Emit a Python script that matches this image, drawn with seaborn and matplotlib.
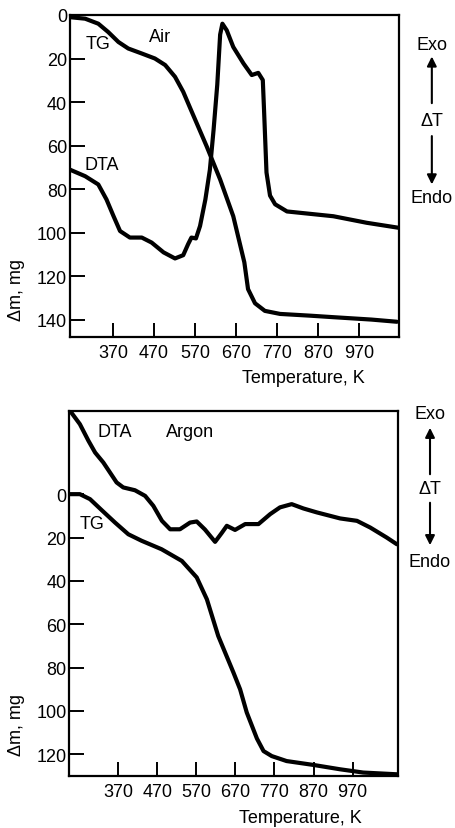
import numpy as np
import pandas as pd
import seaborn as sns
import matplotlib.pyplot as plt

# ? Air: TG curve
air_tg_temp = [265, 302, 334, 358, 383, 407, 440, 472, 497, 521, 541, 558, 598, 631, 663, 690, 699, 716, 740, 777, 850, 907, 1000, 1062]
air_tg_dm = [1.0, 1.7, 4.0, 7.8, 12.4, 15.4, 17.7, 20.0, 23.0, 28.4, 35.3, 42.8, 60.3, 75.6, 92.5, 113.7, 126.0, 132.5, 136.0, 137.4, 138.2, 138.9, 140.0, 141.0]

# ? Air: DTA curve
air_dta_temp = [265, 302, 334, 354, 371, 387, 411, 440, 464, 493, 521, 541, 553, 561, 572, 582, 595, 606, 615,
                624, 631, 636.5, 647, 663, 688, 708, 724, 735, 738, 744, 752.6, 765, 794, 907, 988, 1066]
air_dta_val = [71.1, 74.1, 77.9, 84.8, 92.4, 99.3, 102.3, 102.3, 104.6, 109.1, 111.9, 110.4, 105.3, 102.3, 102.7, 97.0, 84.8, 71.1, 52.8,
               32.0, 9.0, 4.0, 7.0, 14.7, 22.3, 27.6, 26.6, 29.9, 43.6, 72.4, 83.0, 87.0, 90.3, 92.5, 95.5, 97.8]

# ? Argon: TG curve
argon_tg_temp = [247, 272, 298, 328, 362, 396, 430, 481, 533, 571, 597, 626, 665, 682, 699, 725, 742, 763, 801, 870, 938, 997, 1083]
argon_tg_dm = [0.0, 0.0, 2.3, 7.4, 13.1, 18.5, 21.5, 25.4, 30.8, 38.4, 48.5, 65.4, 82.3, 90.0, 100.7, 112.7, 118.5, 120.8, 123.1, 124.9, 126.9, 128.4, 129.2]

# ? Argon: DTA curve
argon_dta_temp = [247, 272, 294, 311, 332, 349, 366, 383, 413, 439, 460, 482, 503, 528, 554, 571, 592, 618, 635, 648, 669,
                  695, 729, 759, 784, 814, 844, 878, 938, 981, 1015, 1057, 1083]
argon_dta_val = [-38.4, -32.3, -24.6, -19.2, -14.6, -10.0, -5.4, -3.1, -1.8, 0.8, 5.4, 12.3, 16.2, 16.2, 13.1, 12.6, 16.3, 22.0, 17.9, 14.6, 16.5,
                 13.8, 13.8, 9.2, 6.1, 4.6, 6.6, 8.4, 11.2, 12.3, 15.4, 20.0, 23.1]

x_ticks = [370, 470, 570, 670, 770, 870, 970]
air_y_ticks = [0, 20, 40, 60, 80, 100, 120, 140]
argon_y_ticks = [0, 20, 40, 60, 80, 100, 120]

sns.set_style('ticks')
plt.rcParams['font.family'] = ['Liberation Sans', 'DejaVu Sans']
plt.rcParams['font.size'] = 13
plt.rcParams['text.color'] = 'black'
plt.rcParams['axes.labelcolor'] = 'black'
plt.rcParams['xtick.color'] = 'black'
plt.rcParams['ytick.color'] = 'black'

fig = plt.figure(figsize=(4.56, 8.29), dpi=100)
ax1 = fig.add_axes([0.1535, 0.5923, 0.7215, 0.3884])
ax2 = fig.add_axes([0.152, 0.0627, 0.7208, 0.4407])


def draw_panel(ax, tg_t, tg_v, dta_t, dta_v, yticks, xlim, ylim):
    sns.lineplot(x=tg_t, y=tg_v, ax=ax, color='black', lw=3, sort=False, estimator=None, solid_joinstyle='round')
    sns.lineplot(x=dta_t, y=dta_v, ax=ax, color='black', lw=3, sort=False, estimator=None, solid_joinstyle='round')
    ax.set_xlim(*xlim)
    ax.set_ylim(*ylim)
    ax.set_xticks(x_ticks)
    ax.set_yticks(yticks)
    ax.tick_params(axis='x', direction='in', length=10, width=1.4, pad=5, labelsize=13)
    ax.tick_params(axis='y', direction='in', length=11, width=1.4, pad=2, labelsize=13)
    for s in ax.spines.values():
        s.set_linewidth(1.6)
        s.set_color('black')
    ax.set_xlabel('Temperature, K', fontsize=13)
    ax.set_ylabel('Δm, mg', fontsize=13)


draw_panel(ax1, air_tg_temp, air_tg_dm, air_dta_temp, air_dta_val, air_y_ticks, (265, 1067), (148, 0))
draw_panel(ax2, argon_tg_temp, argon_tg_dm, argon_dta_temp, argon_dta_val, argon_y_ticks, (245, 1086), (130, -38.5))

ax1.xaxis.set_label_coords(0.708, -0.099)
ax1.yaxis.set_label_coords(-0.137, 0.15)
ax2.xaxis.set_label_coords(0.702, -0.09)
ax2.yaxis.set_label_coords(-0.135, 0.142)

# ? подписи кривых
ax1.text(0.085, 0.91, 'TG', transform=ax1.transAxes, ha='center', va='center', fontsize=13)
ax1.text(0.274, 0.932, 'Air', transform=ax1.transAxes, ha='center', va='center', fontsize=13)
ax1.text(0.097, 0.537, 'DTA', transform=ax1.transAxes, ha='center', va='center', fontsize=13)
ax2.text(0.139, 0.944, 'DTA', transform=ax2.transAxes, ha='center', va='center', fontsize=13)
ax2.text(0.367, 0.944, 'Argon', transform=ax2.transAxes, ha='center', va='center', fontsize=13)
ax2.text(0.069, 0.69, 'TG', transform=ax2.transAxes, ha='center', va='center', fontsize=13)

# ? Exo / Endo стрелки справа
for x, exo, dt, endo, up0, up1, dn0, dn1 in [
        (0.947, 0.9457, 0.853, 0.761, 0.871, 0.934, 0.838, 0.773),
        (0.943, 0.4994, 0.409, 0.322, 0.4234, 0.4861, 0.3957, 0.3378)]:
    fig.text(x, exo, 'Exo', ha='center', va='center', fontsize=13)
    fig.text(x, dt, 'ΔT', ha='center', va='center', fontsize=13)
    fig.text(x, endo, 'Endo', ha='center', va='center', fontsize=13)
    ax1.annotate('', xy=(x, up1), xytext=(x, up0), xycoords='figure fraction',
                 arrowprops=dict(arrowstyle='-|>', color='black', lw=1.5, mutation_scale=14))
    ax1.annotate('', xy=(x, dn1), xytext=(x, dn0), xycoords='figure fraction',
                 arrowprops=dict(arrowstyle='-|>', color='black', lw=1.5, mutation_scale=14))

fig.savefig('out.png', dpi=100)
